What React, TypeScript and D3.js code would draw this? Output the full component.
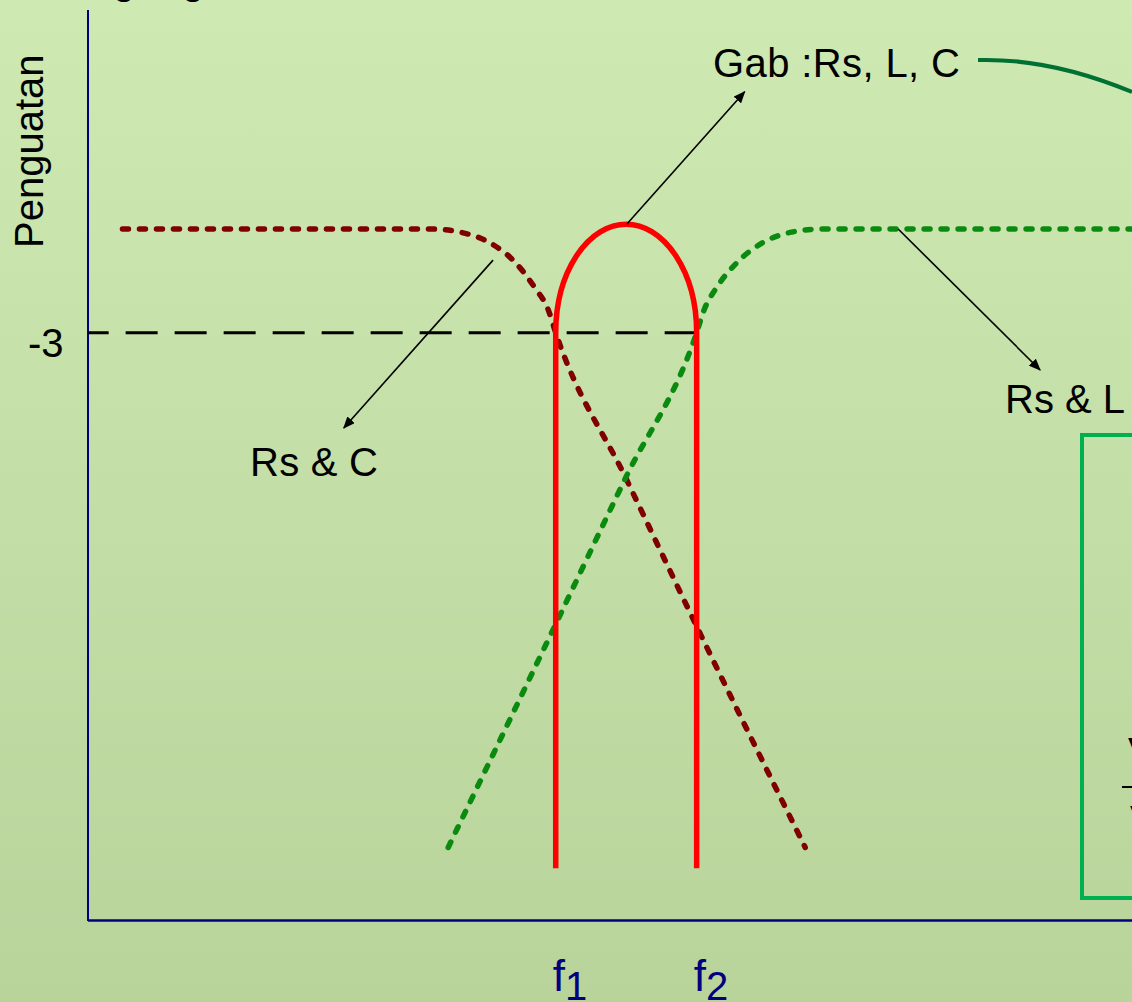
import React from "react";
import * as d3 from "d3";

const W = 1132;
const H = 1002;

// frequency axis in arbitrary units (0..100), gain in dB (-20..0)
const cutoffFreqs = [44.8, 58.3];
const cutoffLabels = ["1", "2"];
const refGain = -3;
const refGainLabel = "-3";

// Rs & C (low-pass)
const rsCFreq = [3.3, 32.8, 35.6, 38.5, 40.9, 42.8, 44.1, 44.8, 51.5, 58.3, 68.7];
const rsCGain = [0, 0, -0.09, -0.4, -0.96, -1.7, -2.35, -3.0, -7.2, -11.5, -17.9];

// Rs & L (high-pass)
const rsLFreq = [34.5, 44.7, 51.5, 58.3, 59.0, 60.2, 62.2, 64.6, 67.4, 70.3, 100];
const rsLGain = [-17.9, -11.5, -7.2, -3.0, -2.35, -1.7, -0.96, -0.4, -0.09, 0, 0];

// Gab: Rs, L, C (band-pass)
const gabPeakGain = 0.14;
const gabBottomGain = -18.5;

// annotation arrows [fromFreq, fromGain, toFreq, toGain]
const gabArrow = [51.6, 0.14, 62.9, 3.97];
const rsCArrow = [38.8, -0.9, 24.5, -5.76];
const rsLArrow = [77.6, 0, 91.2, -4.08];

export default function App() {
  const x = d3.scaleLinear().domain([0, 100]).range([88, 1132]);
  const y = d3.scaleLinear().domain([-20, 0]).range([920, 229]);

  const line = d3
    .line<[number, number]>()
    .x((d) => x(d[0]))
    .y((d) => y(d[1]))
    .curve(d3.curveMonotoneX);

  const rsCPath = line(rsCFreq.map((f, i) => [f, rsCGain[i]] as [number, number])) || "";
  const rsLPath = line(rsLFreq.map((f, i) => [f, rsLGain[i]] as [number, number])) || "";

  const x1 = x(cutoffFreqs[0]);
  const x2 = x(cutoffFreqs[1]);
  const yRef = y(refGain);
  const yBot = y(gabBottomGain);
  const rx = (x2 - x1) / 2;
  const ry = yRef - y(gabPeakGain);
  const gabPath = `M${x1},${yBot} L${x1},${yRef} A${rx},${ry} 0 0 1 ${x2},${yRef} L${x2},${yBot}`;

  const arrow = (a: number[], key: string) => (
    <line
      key={key}
      x1={x(a[0])}
      y1={y(a[1])}
      x2={x(a[2])}
      y2={y(a[3])}
      stroke="#000"
      strokeWidth={1.6}
      markerEnd="url(#ah)"
    />
  );

  const font = "Liberation Sans, Arial, sans-serif";

  return (
    <svg
      width={W}
      height={H}
      style={{ position: "absolute", left: 0, top: 0, display: "block" }}
      fontFamily={font}
    >
      <defs>
        <linearGradient id="bg" x1="0" y1="0" x2="0" y2="1">
          <stop offset="0" stopColor="#CEE9B2" />
          <stop offset="1" stopColor="#B8D49B" />
        </linearGradient>
        <marker id="ah" viewBox="0 0 12 10" refX="11" refY="5" markerWidth="12" markerHeight="10" markerUnits="userSpaceOnUse" orient="auto">
          <path d="M0,0 L12,5 L0,10 Z" fill="#000" />
        </marker>
      </defs>
      <rect x={0} y={0} width={W} height={H} fill="url(#bg)" />

      {/* cut-off title descenders */}
      <text x={113} y={-6} fontSize={40} fill="#000">g</text>
      <text x={182} y={-6} fontSize={40} fill="#000">g</text>

      {/* axes */}
      <line x1={x(0)} y1={10} x2={x(0)} y2={921} stroke="#000080" strokeWidth={2} />
      <line x1={x(0)} y1={920.5} x2={W} y2={920.5} stroke="#000080" strokeWidth={2.5} />

      {/* -3 reference dashed line, drawn from f2 back to axis */}
      <line x1={x2} y1={yRef} x2={x(0)} y2={yRef} stroke="#000" strokeWidth={3} strokeDasharray="32 17" />

      {/* curves */}
      <path d={rsCPath} fill="none" stroke="#800000" strokeWidth={5.5} strokeLinecap="round" strokeDasharray="6 11" />
      <path d={rsLPath} fill="none" stroke="#0B8A10" strokeWidth={5.5} strokeLinecap="round" strokeDasharray="6 11" />
      <path d={gabPath} fill="none" stroke="#FF0000" strokeWidth={5.5} />

      {/* annotations */}
      {arrow(gabArrow, "g")}
      {arrow(rsCArrow, "c")}
      {arrow(rsLArrow, "l")}

      <text x={713} y={77} fontSize={40} fill="#000" textLength={247} lengthAdjust="spacing">Gab :Rs, L, C</text>
      <path d="M978,60 Q1050,58 1132,92" fill="none" stroke="#007033" strokeWidth={4} />
      <text x={250} y={476} fontSize={40} fill="#000" textLength={128} lengthAdjust="spacing">Rs &amp; C</text>
      <text x={1005} y={413} fontSize={40} fill="#000">Rs &amp; L</text>

      {/* green box on the right */}
      <rect x={1082} y={435} width={80} height={463} fill="none" stroke="#00B050" strokeWidth={4} />
      <text x={1128} y={766} fontSize={40} fill="#000">V</text>
      <line x1={1122} y1={787} x2={W} y2={787} stroke="#000" strokeWidth={2} />
      <text x={1130} y={834} fontSize={40} fill="#000">V</text>

      {/* axis labels */}
      <text transform="translate(43,248) rotate(-90)" fontSize={40} fill="#000">Penguatan</text>
      <text x={28} y={357} fontSize={40} fill="#000">{refGainLabel}</text>
      {cutoffFreqs.map((f, i) => (
        <text key={i} x={x(f) - 3} y={991} fontSize={44} fill="#000080">
          f<tspan fontSize={40} dy={9}>{cutoffLabels[i]}</tspan>
        </text>
      ))}
    </svg>
  );
}
